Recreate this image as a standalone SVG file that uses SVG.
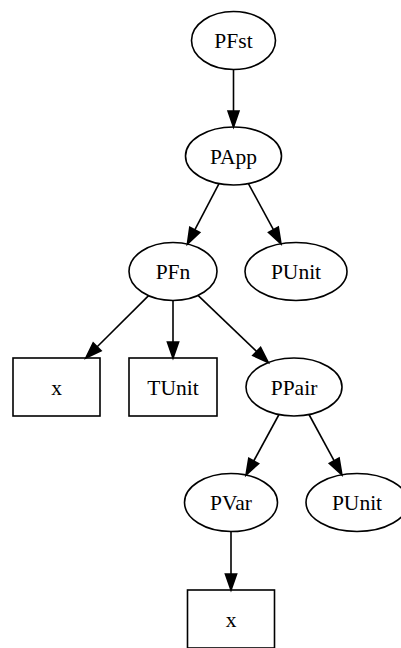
<svg xmlns="http://www.w3.org/2000/svg" width="401" height="648" viewBox="0 0 401 648">
<style>
.n ellipse,.n rect{fill:none;stroke:#000;stroke-width:1.6}
.n text{font-family:"Liberation Serif","Times New Roman",serif;font-size:21.5px;text-anchor:middle;fill:#000}
.e line{stroke:#000;stroke-width:1.6}
.e polygon{fill:#000;stroke:#000;stroke-width:1.6}
</style>
<rect width="401" height="648" fill="#fff"/>
<g id="edges" class="e">
<line x1="233.5" y1="69.5" x2="233.5" y2="111"/><polygon points="228,111 233.5,127 239,111"/>
<line x1="219" y1="183.6" x2="194.8" y2="229.9"/><polygon points="199.8,232.5 187.4,244.1 189.8,227.3"/>
<line x1="248.4" y1="183.6" x2="273.4" y2="229.7"/><polygon points="278.3,227.1 281,243.8 268.5,232.4"/>
<line x1="148.6" y1="295.6" x2="97.2" y2="346.7"/><polygon points="101.1,350.7 85.8,358 93.2,342.8"/>
<line x1="173" y1="300.5" x2="173" y2="342"/><polygon points="167.4,342 173,358 178.6,342"/>
<line x1="198" y1="295.4" x2="256.7" y2="351.5"/><polygon points="260.6,347.4 268.3,362.5 252.8,355.5"/>
<line x1="279" y1="414.5" x2="253.7" y2="461"/><polygon points="258.6,463.6 246,475 248.8,458.3"/>
<line x1="309" y1="414.5" x2="334.2" y2="460.8"/><polygon points="339.1,458.1 341.9,474.8 329.3,463.5"/>
<line x1="231" y1="531.5" x2="231" y2="574"/><polygon points="225.4,574 231,590 236.6,574"/>
</g>
<g id="PFst" class="n"><ellipse cx="233.5" cy="40.5" rx="42" ry="29"/><text x="233.5" y="48">PFst</text></g>
<g id="PApp" class="n"><ellipse cx="233.5" cy="156" rx="48" ry="29"/><text x="233.5" y="163.5">PApp</text></g>
<g id="PFn" class="n"><ellipse cx="173" cy="271.5" rx="44" ry="29"/><text x="173" y="279">PFn</text></g>
<g id="PUnit1" class="n"><ellipse cx="296" cy="271.5" rx="51" ry="29"/><text x="296" y="279">PUnit</text></g>
<g id="x1" class="n"><rect x="13" y="358" width="87" height="58"/><text x="56.5" y="394.5">x</text></g>
<g id="TUnit" class="n"><rect x="129" y="358" width="88" height="58"/><text x="173" y="394.5">TUnit</text></g>
<g id="PPair" class="n"><ellipse cx="294" cy="387" rx="48" ry="29"/><text x="294" y="394.5">PPair</text></g>
<g id="PVar" class="n"><ellipse cx="231" cy="502.5" rx="46.5" ry="29"/><text x="231" y="510">PVar</text></g>
<g id="PUnit2" class="n"><ellipse cx="357" cy="502.5" rx="51" ry="29"/><text x="357" y="510">PUnit</text></g>
<g id="x2" class="n"><rect x="187.5" y="590" width="87" height="58"/><text x="231" y="626.5">x</text></g>
</svg>
